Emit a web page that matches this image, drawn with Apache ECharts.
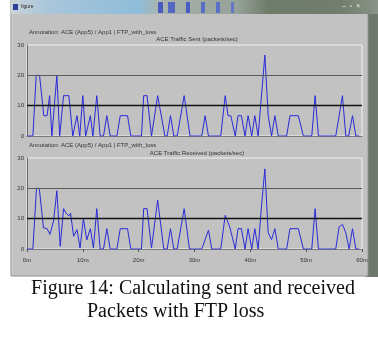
<!DOCTYPE html>
<html>
<head>
<meta charset="utf-8">
<script src="https://cdn.jsdelivr.net/npm/echarts@6/dist/echarts.min.js"></script>
<style>
  html, body { margin: 0; padding: 0; background: #fff; }
  #chart { width: 378px; height: 341px; }
</style>
</head>
<body>
<div id="chart"></div>
<script>
// 读取自截图的数据：时间（分钟）与数值（packets/sec）
const sentTime = [0, 1.05, 1.65, 2.25, 3.0, 3.6, 4.05, 4.45, 5.35, 5.85, 6.55, 7.5, 8.2, 8.95, 9.45, 10.0, 10.5, 11.35, 11.8, 12.5, 13.1, 13.7, 14.3, 14.9, 16.1, 16.7, 18.0, 18.6, 20.5, 20.9, 21.5, 22.3, 23.4, 24.7, 25.1, 25.7, 26.3, 26.9, 28.15, 29.2, 31.3, 31.9, 32.5, 34.7, 35.5, 36.0, 36.5, 37.3, 37.8, 38.4, 39.05, 39.6, 40.25, 40.8, 41.4, 42.6, 43.2, 43.8, 44.4, 45.0, 46.5, 47.1, 48.6, 49.5, 51.0, 51.6, 52.2, 55.3, 56.5, 57.1, 57.6, 58.3, 58.9, 59.5];
const sentValue = [0, 0, 20, 20, 6.7, 6.7, 13.3, 0, 20, 0, 13.3, 13.3, 0, 6.7, 0, 13.3, 0, 6.7, 0, 13.3, 0, 0, 6.7, 0, 0, 6.7, 6.7, 0, 0, 13.3, 13.3, 0, 13.3, 0, 0, 6.7, 0, 0, 13.3, 0, 0, 6.7, 0, 0, 13.3, 6.7, 6.7, 0, 6.7, 6.7, 0, 6.7, 0, 6.7, 0, 26.7, 6.7, 0, 6.7, 0, 0, 6.7, 6.7, 0, 0, 13.3, 0, 0, 13.3, 0, 0, 6.7, 0, 0];

const recvTime = [0, 1.05, 1.7, 2.2, 2.95, 3.6, 4.1, 4.75, 5.35, 5.95, 6.55, 7.0, 7.5, 7.8, 8.35, 8.95, 9.5, 10.1, 10.7, 11.35, 11.9, 12.5, 13.1, 13.7, 14.3, 14.9, 16.1, 16.7, 18.0, 18.6, 20.5, 20.9, 21.5, 22.3, 23.4, 24.5, 25.1, 25.7, 26.3, 26.9, 28.15, 29.1, 31.3, 32.5, 33.1, 34.7, 35.5, 36.3, 37.3, 37.8, 38.4, 39.05, 39.6, 40.25, 40.8, 41.4, 42.0, 42.6, 43.2, 43.8, 44.4, 45.0, 46.5, 47.1, 48.6, 49.5, 51.0, 51.6, 52.2, 55.3, 55.9, 56.5, 57.1, 57.7, 58.3, 58.9, 59.5];
const recvValue = [0, 0, 20, 20, 7, 6.7, 4.8, 9.2, 19.2, 0.9, 13.3, 11.8, 10.9, 11.8, 4.2, 6.4, 0.3, 10, 3, 6.7, 0.3, 13.3, 0, 0, 6.7, 0, 0, 6.7, 6.7, 0, 0, 13.3, 13.3, 0.3, 16.1, 0, 0, 6.7, 0, 0, 13.3, 0, 0, 6.2, 0, 0, 11.1, 7.3, 0, 6.7, 6.7, 0, 6.7, 0, 6.7, 0, 14.2, 26.4, 5.3, 3.1, 6.7, 0, 0, 6.7, 6.7, 0, 0, 13.3, 0, 0, 7.3, 8.1, 5.3, 0, 6.7, 0, 0];

const yTicks = [0, 10, 20, 30];
const xTicks = [0, 10, 20, 30, 40, 50, 60];
const titles = ["ACE Traffic Sent (packets/sec)", "ACE Traffic Received (packets/sec)"];
const annotation = "Annotation: ACE (App5) / App1 | FTP_with_loss";
const caption = ["Figure 14: Calculating sent and received", "Packets with FTP loss"];

let myChart = echarts.init(document.getElementById("chart"));

const pairs = (t, v) => t.map((x, i) => [x, v[i]]);

const smallFont = "Liberation Sans";
const grids = [
	{ left: 27, top: 45, width: 335, height: 91 },
	{ left: 27, top: 158, width: 335, height: 91 },
];

function xAxisOf(i) {
	return {
		type: "value",
		gridIndex: i,
		min: xTicks[0],
		max: xTicks[xTicks.length - 1],
		interval: 10,
		axisLine: { lineStyle: { color: "#7a7a7a", width: 1 } },
		axisTick: { show: i === 1, length: 3, lineStyle: { color: "#555" } },
		axisLabel: {
			show: i === 1,
			formatter: "{value}m",
			color: "#333",
			fontSize: 6,
			fontFamily: smallFont,
			margin: 8,
		},
		splitLine: { show: false },
	};
}

function yAxisOf(i) {
	return {
		type: "value",
		gridIndex: i,
		min: yTicks[0],
		max: yTicks[yTicks.length - 1],
		interval: 10,
		axisLine: { show: true, lineStyle: { color: "#6a6a6a", width: 1 } },
		axisTick: { show: false },
		axisLabel: { color: "#333", fontSize: 6, fontFamily: smallFont, margin: 3 },
		splitLine: { show: false },
	};
}

// 参考线：10 黑色，20 深灰
const refLines = {
	silent: true,
	symbol: "none",
	label: { show: false },
	data: [
		{ yAxis: yTicks[1], lineStyle: { color: "#111", width: 1.3, type: "solid" } },
		{ yAxis: yTicks[2], lineStyle: { color: "#5a5a5a", width: 1, type: "solid" } },
	],
};

function lineSeries(i, t, v) {
	return {
		type: "line",
		xAxisIndex: i,
		yAxisIndex: i,
		data: pairs(t, v),
		showSymbol: false,
		animation: false,
		lineStyle: { color: "#2a2ad8", width: 1 },
		markLine: refLines,
		z: 3,
	};
}

function txt(x, y, s, size, align, color) {
	return {
		type: "text",
		x: x,
		y: y,
		z: 10,
		style: { text: s, fill: color || "#333", font: size + "px " + smallFont, textAlign: align || "left" },
	};
}

function box(x, y, w, h, fill, z) {
	return { type: "rect", z: z, shape: { x: x, y: y, width: w, height: h }, style: { fill: fill } };
}

const option = {
	animation: false,
	backgroundColor: "#ffffff",
	grid: grids.map((g) => Object.assign({ show: true, borderColor: "#f2f2f2", borderWidth: 1, backgroundColor: "transparent" }, g)),
	xAxis: [xAxisOf(0), xAxisOf(1)],
	yAxis: [yAxisOf(0), yAxisOf(1)],
	series: [lineSeries(0, sentTime, sentValue), lineSeries(1, recvTime, recvValue)],
	graphic: [
		// 窗口外框
		box(366, 0, 12, 277, "#6e786c", -10),
		{ type: "rect", z: -10, shape: { x: 11, y: 0, width: 357, height: 276 }, style: { fill: "#d0d0d0", stroke: "#8a8a8a", lineWidth: 1 } },
		// 标题栏（模糊的任务栏背景）
		{
			type: "rect", z: -9, shape: { x: 11, y: 0, width: 367, height: 14 },
			style: {
				fill: new echarts.graphic.LinearGradient(0, 0, 1, 0, [
					{ offset: 0, color: "#c9d3d6" },
					{ offset: 0.1, color: "#a9c6dc" },
					{ offset: 0.35, color: "#8fbcd8" },
					{ offset: 0.4, color: "#aab4b0" },
					{ offset: 0.62, color: "#95a096" },
					{ offset: 0.7, color: "#6f7c6a" },
					{ offset: 0.9, color: "#727d6d" },
					{ offset: 1, color: "#8a9488" },
				]),
			},
		},
		box(158, 2, 5, 11, "#4a5cc0", -8),
		box(168, 2, 7, 11, "#5468c4", -8),
		box(186, 2, 4, 11, "#4a5cc0", -8),
		box(201, 2, 4, 11, "#5a6ec8", -8),
		box(216, 2, 4, 11, "#5a6ec8", -8),
		box(231, 2, 3, 11, "#6476c8", -8),
		box(13, 4, 5, 6, "#2c3e9a", -8),
		txt(21, 4, "figure", 5, "left", "#222"),
		txt(342, 3, "–  ▫  ×", 7, "left", "#eeeeee"),
		// 客户区
		box(13, 14, 354, 261, "#c2c2c2", -7),
		// 注释与标题
		txt(29, 29, annotation, 6),
		txt(197, 36, titles[0], 6, "center"),
		txt(29, 142, annotation, 6),
		txt(197, 150, titles[1], 6, "center"),
		// 图注
		{ type: "text", z: 10, x: 193, y: 279, style: { text: caption[0], fill: "#111", font: "20px 'Liberation Serif'", textAlign: "center" } },
		{ type: "text", z: 10, x: 87, y: 302, style: { text: caption[1], fill: "#111", font: "20px 'Liberation Serif'" } },
	],
};

myChart.setOption(option);
</script>
</body>
</html>
